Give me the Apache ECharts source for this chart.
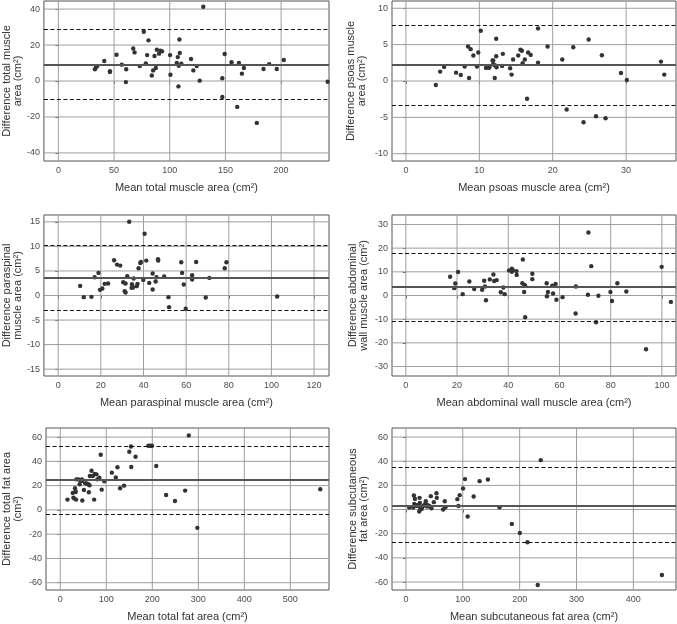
<!DOCTYPE html>
<html><head><meta charset="utf-8">
<script src="https://cdn.jsdelivr.net/npm/echarts@6/dist/echarts.min.js"></script>
<style>html,body{margin:0;padding:0;background:#fff}#c{width:677px;height:624px}</style>
</head><body><div id="c"></div>
<script>
// ---- Panel 1: total muscle area ----
const mean1 = [32.8,33.7,34.9,41.2,46.3,46.3,52.2,57.0,60.9,60.6,67.2,68.4,73.1,76.7,78.5,79.7,80.9,83.9,85.1,86.3,87.5,88.4,90.4,91.6,93.1,100.3,100.6,106.3,107.2,107.8,108.1,108.7,109.0,110.4,119.1,121.2,124.2,126.9,130.1,147.2,147.2,149.3,155.5,160.6,162.1,164.8,166.6,178.2,184.2,189.3,196.1,202.4,241.8];
const diff1 = [6.5,7.6,8.3,11.1,5.0,5.4,14.6,9.1,6.5,-0.6,18.1,15.9,8.3,27.4,9.8,14.4,22.6,3.1,5.9,13.9,7.2,17.4,15.2,16.9,16.5,14.4,3.5,10.0,13.3,-3.0,8.5,23.1,15.6,9.6,12.2,5.9,8.3,0.2,41.3,1.5,-8.9,15.0,10.4,-14.4,10.0,4.1,7.2,-23.3,6.7,9.4,6.7,11.7,-0.4];
const bias1 = 9.3, upper1 = 28.7, lower1 = -10.4;
const xTicks1 = [0,50,100,150,200];
const yTicks1 = [-40,-20,0,20,40];

// ---- Panel 2: psoas muscle area ----
const mean2 = [4.07,4.66,5.2,6.83,7.47,8.0,8.46,8.6,8.82,9.19,9.68,9.86,10.2,10.9,11.3,11.4,11.8,11.9,11.9,12.1,12.1,12.3,12.3,12.35,13.1,13.2,14.2,14.4,14.6,15.3,15.6,15.8,15.9,16.2,16.5,16.65,17.0,18.0,18.0,19.3,21.3,21.9,22.8,24.2,24.9,25.9,26.7,27.2,29.3,30.1,34.75,35.2];
const diff2 = [-0.55,1.29,1.94,1.15,0.83,1.98,4.75,0.41,4.38,3.5,1.98,3.92,6.91,1.80,1.80,1.94,2.81,2.81,2.30,2.17,0.41,5.81,3.41,1.89,2.07,3.73,1.75,0.88,2.95,3.5,4.29,4.15,2.44,2.95,-2.44,3.92,3.59,2.53,7.23,4.75,2.95,-3.92,4.65,-5.67,5.71,-4.84,3.55,-5.12,1.1,0.14,2.67,0.88];
const bias2 = 2.17, upper2 = 7.6, lower2 = -3.32;
const xTicks2 = [0,10,20,30];
const yTicks2 = [-10,-5,0,5,10];

// ---- Panel 3: paraspinal muscle area ----
const mean3 = [10.3,12.0,15.6,17.1,18.9,19.6,20.7,21.8,23.4,26.2,27.6,29.1,30.5,31.2,31.6,31.6,32.4,33.3,34.4,34.6,35.1,35.4,36.8,37.2,37.7,38.5,38.8,39.9,40.5,41.3,42.7,44.3,44.3,45.7,46.1,46.8,46.9,49.7,51.7,52.0,57.7,58.1,58.9,59.8,62.8,62.8,64.7,69.2,70.9,78.1,78.9,102.7];
const diff3 = [1.96,-0.34,-0.27,3.72,4.6,1.15,1.42,2.37,2.44,7.18,6.3,6.09,2.71,0.88,0.61,2.44,3.93,15.03,1.56,2.3,1.62,3.45,1.9,2.37,5.55,6.63,6.84,3.18,12.59,7.11,2.57,1.22,4.47,2.84,3.72,7.38,7.11,3.86,-0.34,-2.37,6.77,4.6,2.23,-2.7,4.13,3.25,6.84,-0.41,3.59,5.55,6.77,-0.2];
const bias3 = 3.6, upper3 = 10.2, lower3 = -2.95;
const xTicks3 = [0,20,40,60,80,100,120];
const yTicks3 = [-15,-10,-5,0,5,10,15];

// ---- Panel 4: abdominal wall muscle area ----
const mean4 = [17.3,18.9,19.3,20.4,22.2,24.8,26.7,29.8,30.6,30.9,31.3,32.8,34.2,34.5,35.5,37.1,38.1,38.6,40.3,41.4,41.4,41.8,43.2,43.3,45.5,45.7,46.3,46.2,46.6,46.6,49.4,49.4,55.0,55.1,55.5,57.2,57.5,58.5,58.8,61.2,66.3,66.4,71.1,71.3,72.4,74.3,75.2,79.9,80.5,82.6,86.1,93.8,99.9,103.5];
const diff4 = [7.9,3.1,5.1,9.9,0.56,5.9,2.7,2.4,6.2,3.8,-2.0,6.8,8.9,6.1,6.5,1.4,3.4,0.56,10.6,11.3,10.0,10.7,10.3,8.7,5.2,15.2,4.5,1.5,4.1,-9.2,9.2,6.9,5.2,-0.3,1.5,4.1,0.85,4.9,-1.8,-0.7,-7.6,3.8,0.3,26.6,12.4,-11.3,-0.1,1.5,-2.3,5.2,1.7,-22.7,12.1,-2.7];
const bias4 = 3.6, upper4 = 17.9, lower4 = -10.7;
const xTicks4 = [0,20,40,60,80,100];
const yTicks4 = [-30,-20,-10,0,10,20,30];

// ---- Panel 5: total fat area ----
const mean5 = [15.7,27.1,28.6,30.7,32.1,32.9,33.6,34.3,35.0,39.3,42.1,43.6,47.1,47.9,47.9,51.4,54.3,57.1,60.7,62.1,63.6,64.3,67.9,70.7,73.6,75.0,78.6,80.7,85.0,87.9,90.0,95.7,112.1,120.7,124.3,130.0,138.6,150.0,153.6,154.3,163.6,191.4,195.7,199.3,208.6,230.0,249.3,271.4,279.3,297.9,565];
const diff5 = [8.5,14.0,10.1,9.3,17.8,14.8,15.1,8.5,25.2,25.2,21.1,24.4,25.2,23.8,7.7,16.4,21.9,21.9,21.1,14.5,20.3,27.9,32.3,27.9,8.5,29.6,29.3,25.2,26.6,45.5,16.7,23.6,30.7,26.8,35.1,17.8,20.0,47.9,52.3,35.3,43.8,52.9,52.9,52.9,36.2,12.3,7.4,15.9,61.4,-14.8,17.0];
const bias5 = 24.5, upper5 = 52.6, lower5 = -3.6;
const xTicks5 = [0,100,200,300,400,500];
const yTicks5 = [-60,-40,-20,0,20,40,60];

// ---- Panel 6: subcutaneous fat area ----
const mean6 = [5.8,12.8,14.0,14.6,15.8,16.9,18.1,19.9,22.8,23.4,24.0,24.5,25.1,26.3,28.0,29.8,32.1,33.9,35.0,36.2,37.4,39.1,40.3,41.5,43.8,44.9,49.1,53.7,54.3,65.4,68.3,69.5,90.5,92.3,94.6,100.4,103.9,108.6,119.1,129.6,144.2,164.7,186.3,200.3,213.7,231.8,237.1,450.2];
const diff6 = [1.7,1.7,11.6,4.7,8.8,3.6,3.0,3.6,3.0,-1.7,9.7,5.5,0,1.9,0.6,2.8,3.3,4.7,6.9,3.9,2.5,3.3,3.0,2.8,11.1,1.1,6.1,13.5,9.7,0,6.9,1.9,8.6,3.0,11.9,17.4,25.2,-5.8,10.8,23.5,24.9,1.9,-11.9,-19.4,-27.1,-62.5,40.9,-54.2];
const bias6 = 3.5, upper6 = 35.1, lower6 = -27.1;
const xTicks6 = [0,100,200,300,400];
const yTicks6 = [-60,-40,-20,0,20,40,60];

const xTitles = [
  'Mean total muscle area (cm²)',
  'Mean psoas muscle area (cm²)',
  'Mean paraspinal muscle area (cm²)',
  'Mean abdominal wall muscle area (cm²)',
  'Mean total fat area (cm²)',
  'Mean subcutaneous fat area (cm²)'
];
const yTitles = [
  'Difference total muscle\narea (cm²)',
  'Difference psoas muscle\narea (cm²)',
  'Difference paraspinal\nmuscle area (cm²)',
  'Difference abdominal\nwall muscle area (cm²)',
  'Difference total fat area\n(cm²)',
  'Difference subcutaneous\nfat area (cm²)'
];

const panels = [
  {m: mean1, d: diff1, b: [bias1, upper1, lower1], xt: xTicks1, yt: yTicks1},
  {m: mean2, d: diff2, b: [bias2, upper2, lower2], xt: xTicks2, yt: yTicks2},
  {m: mean3, d: diff3, b: [bias3, upper3, lower3], xt: xTicks3, yt: yTicks3},
  {m: mean4, d: diff4, b: [bias4, upper4, lower4], xt: xTicks4, yt: yTicks4},
  {m: mean5, d: diff5, b: [bias5, upper5, lower5], xt: xTicks5, yt: yTicks5},
  {m: mean6, d: diff6, b: [bias6, upper6, lower6], xt: xTicks6, yt: yTicks6}
];

// layout (pixels) and axis extents
const boxes = [[43,1,286,160],[392,1,284,160],[43,215,286,161],[392,215,284,161],[43,428,286,162],[392,428,284,162]];
const xRanges = [[-13,243],[-1.9,36.8],[-6.7,127],[-5.4,105.5],[-31,584],[-24.5,475]];
const yRanges = [[-44.5,44.5],[-11,11],[-16.4,16.4],[-34,34],[-66,67.5],[-66.6,67.5]];
const yNameGaps = [20,25,20,23,23,23];

const FONT = 'Liberation Sans, Arial, sans-serif';
const GRID_COLOR = '#9e9e9e';
const GRIDLINE = {type: 'solid', color: GRID_COLOR, width: 1, opacity: 1};
const grids = [], xAxes = [], yAxes = [], series = [];
panels.forEach((p, i) => {
  const bx = boxes[i];
  const xr = xRanges[i], yr = yRanges[i];
  grids.push({left: bx[0], top: bx[1], width: bx[2], height: bx[3], show: true,
    borderColor: '#555', borderWidth: 1, backgroundColor: 'rgba(0,0,0,0)', containLabel: false});
  const common = {
    type: 'value', gridIndex: i,
    axisLine: {show: false},
    axisTick: {show: true, length: 3, lineStyle: {color: '#555', width: 1}},
    splitLine: {show: false},
    nameLocation: 'middle',
    nameTextStyle: {fontFamily: FONT, fontSize: 11, color: '#333', lineHeight: 11}
  };
  xAxes.push(Object.assign({}, common, {
    min: xr[0], max: xr[1],
    axisTick: Object.assign({}, common.axisTick, {customValues: p.xt}),
    axisLabel: {customValues: p.xt, fontFamily: FONT, fontSize: 9, color: '#4d4d4d', margin: 5},
    name: xTitles[i], nameGap: 21
  }));
  yAxes.push(Object.assign({}, common, {
    min: yr[0], max: yr[1],
    axisTick: Object.assign({}, common.axisTick, {customValues: p.yt}),
    axisLabel: {customValues: p.yt, fontFamily: FONT, fontSize: 9, color: '#4d4d4d', margin: 4},
    name: yTitles[i], nameGap: yNameGaps[i], nameRotate: 90
  }));
  // gridlines at the tick values, drawn through the axes' own scales
  p.xt.forEach(v => series.push({
    type: 'line', xAxisIndex: i, yAxisIndex: i, data: [[v, yr[0]], [v, yr[1]]],
    symbol: 'none', lineStyle: GRIDLINE, itemStyle: {color: GRID_COLOR}, silent: true, z: 1, animation: false
  }));
  p.yt.forEach(v => series.push({
    type: 'line', xAxisIndex: i, yAxisIndex: i, data: [[xr[0], v], [xr[1], v]],
    symbol: 'none', lineStyle: GRIDLINE, itemStyle: {color: GRID_COLOR}, silent: true, z: 1, animation: false
  }));
  series.push({
    type: 'scatter', xAxisIndex: i, yAxisIndex: i,
    data: p.m.map((v, k) => [v, p.d[k]]),
    symbolSize: 4.4, itemStyle: {color: '#333', opacity: 1},
    silent: true, z: 3,
    markLine: {
      silent: true, symbol: ['none', 'none'], label: {show: false}, animation: false,
      data: [
        {yAxis: p.b[0], lineStyle: {type: 'solid', color: '#555', width: 1.8}},
        {yAxis: p.b[1], lineStyle: {type: [4, 2.5], color: '#111', width: 1.2}},
        {yAxis: p.b[2], lineStyle: {type: [4, 2.5], color: '#111', width: 1.2}}
      ]
    }
  });
});

const chart = echarts.init(document.getElementById('c'), null, {renderer: 'canvas'});
chart.setOption({animation: false, grid: grids, xAxis: xAxes, yAxis: yAxes, series: series});
</script>
</body></html>
